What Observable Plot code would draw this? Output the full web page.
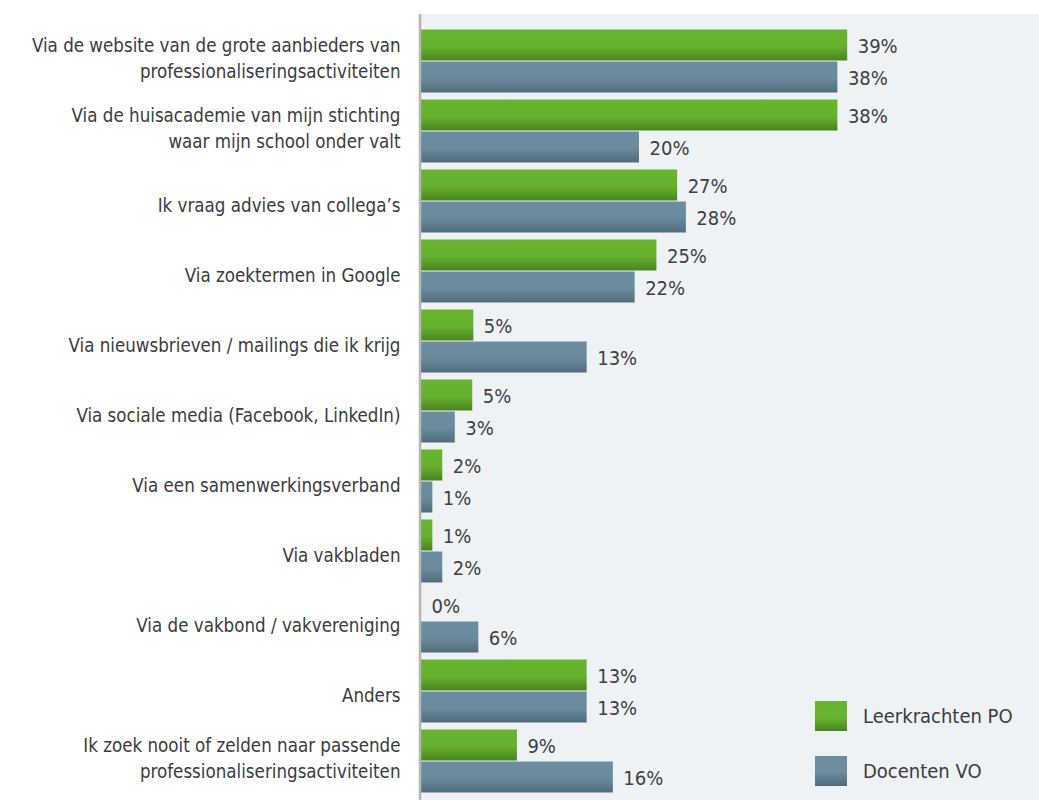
<!DOCTYPE html>
<html>
<head>
<meta charset="utf-8">
<script src="https://cdn.jsdelivr.net/npm/d3@7"></script>
<script src="https://cdn.jsdelivr.net/npm/@observablehq/plot@0.6"></script>
<style>
  body { margin: 0; background: #fff; }
  #wrap { position: relative; width: 1039px; height: 800px; font-family: "Liberation Sans Narrow", "DejaVu Sans Condensed", Roboto, sans-serif; }
  #legend { position: absolute; left: 815px; top: 701px; }
  .item { display: flex; align-items: center; height: 30px; margin-bottom: 25px; font-size: 20px; color: #3c3c3c; }
  .sw { width: 32px; height: 30px; margin-right: 16px; }
</style>
</head>
<body>
<div id="wrap"><div id="legend"></div></div>
<script>
const categories = [
  "Via de website van de grote aanbieders van\nprofessionaliseringsactiviteiten",
  "Via de huisacademie van mijn stichting\nwaar mijn school onder valt",
  "Ik vraag advies van collega’s",
  "Via zoektermen in Google",
  "Via nieuwsbrieven / mailings die ik krijg",
  "Via sociale media (Facebook, LinkedIn)",
  "Via een samenwerkingsverband",
  "Via vakbladen",
  "Via de vakbond / vakvereniging",
  "Anders",
  "Ik zoek nooit of zelden naar passende\nprofessionaliseringsactiviteiten"
];
const seriesNames = ["Leerkrachten PO", "Docenten VO"];
// bar lengths as drawn in the picture
const barPO = [39.1, 38.2, 23.5, 21.6, 4.8, 4.7, 1.95, 1.04, 0, 15.2, 8.8];
const barVO = [38.2, 20.0, 24.3, 19.6, 15.2, 3.1, 1.04, 1.95, 5.26, 15.2, 17.6];
// printed percentages
const labelPO = [39, 38, 27, 25, 5, 5, 2, 1, 0, 13, 9];
const labelVO = [38, 20, 28, 22, 13, 3, 1, 2, 6, 13, 16];

const rows = categories.flatMap((c, i) => [
  {cat: c, series: seriesNames[0], v: barPO[i], label: labelPO[i] + "%"},
  {cat: c, series: seriesNames[1], v: barVO[i], label: labelVO[i] + "%"}
]);

const W = 1039, H = 800, ML = 421;
const FONT = "'Liberation Sans Narrow', 'DejaVu Sans Condensed', Roboto, sans-serif";
const singleCats = categories.filter(c => !c.includes("\n"));
const multiCats = categories.filter(c => c.includes("\n"));
const axisOpts = {anchor: "left", tickSize: 0, tickPadding: 21, fontSize: 18.6, lineHeight: 1.4, label: null, color: "#3c3c3c"};

const chart = Plot.plot({
  width: W,
  height: H,
  marginLeft: ML,
  marginRight: 0,
  marginTop: 22.5,
  marginBottom: 1.5,
  style: {fontFamily: FONT, background: "transparent"},
  x: {domain: [0, (W - ML) / 10.9], axis: null},
  y: {domain: seriesNames, axis: null, paddingInner: 0.04, paddingOuter: 0},
  fy: {domain: categories, paddingInner: 0.1, paddingOuter: 0.05, label: null, axis: null},
  marks: [
    Plot.barX(rows.filter(d => d.series === seriesNames[0]), {x: "v", y: "series", fy: "cat", fill: "url(#gradPO)"}),
    Plot.barX(rows.filter(d => d.series === seriesNames[1]), {x: "v", y: "series", fy: "cat", fill: "url(#gradVO)"}),
    Plot.text(rows, {x: "v", y: "series", fy: "cat", text: "label", textAnchor: "start", dx: 10, dy: 1, fontSize: 20, fill: "#404040"}),
    Plot.axisFy({...axisOpts, ticks: singleCats, dy: 3}),
    Plot.axisFy({...axisOpts, ticks: multiCats, dy: -4})
  ]
});

const svg = d3.select(chart);
const defs = svg.insert("defs", ":first-child");
function grad(id, stops) {
  const g = defs.append("linearGradient").attr("id", id).attr("x1", 0).attr("y1", 0).attr("x2", 0).attr("y2", 1);
  stops.forEach(([o, c]) => g.append("stop").attr("offset", o).attr("stop-color", c));
}
grad("gradPO", [[0, "#68b42f"], [0.55, "#65b12d"], [1, "#4a8420"]]);
grad("gradVO", [[0, "#6c8ca0"], [0.55, "#6a8a9d"], [1, "#526b7a"]]);
svg.insert("rect", "defs + *").attr("x", ML).attr("y", 14).attr("width", W - ML).attr("height", H - 14).attr("fill", "#eef2f5");
svg.append("line").attr("x1", 420).attr("x2", 420).attr("y1", 14).attr("y2", H).attr("stroke", "#b5b5b5").attr("stroke-width", 2.5);

document.getElementById("wrap").prepend(chart);

const legend = document.getElementById("legend");
[["#68b42f", "#4a8420", seriesNames[0]], ["#6c8ca0", "#526b7a", seriesNames[1]]].forEach(([c1, c2, name]) => {
  const it = document.createElement("div");
  it.className = "item";
  const sw = document.createElement("div");
  sw.className = "sw";
  sw.style.background = `linear-gradient(${c1} 0%, ${c1} 55%, ${c2} 100%)`;
  const t = document.createElement("span");
  t.textContent = name;
  it.append(sw, t);
  legend.append(it);
});
</script>
</body>
</html>
